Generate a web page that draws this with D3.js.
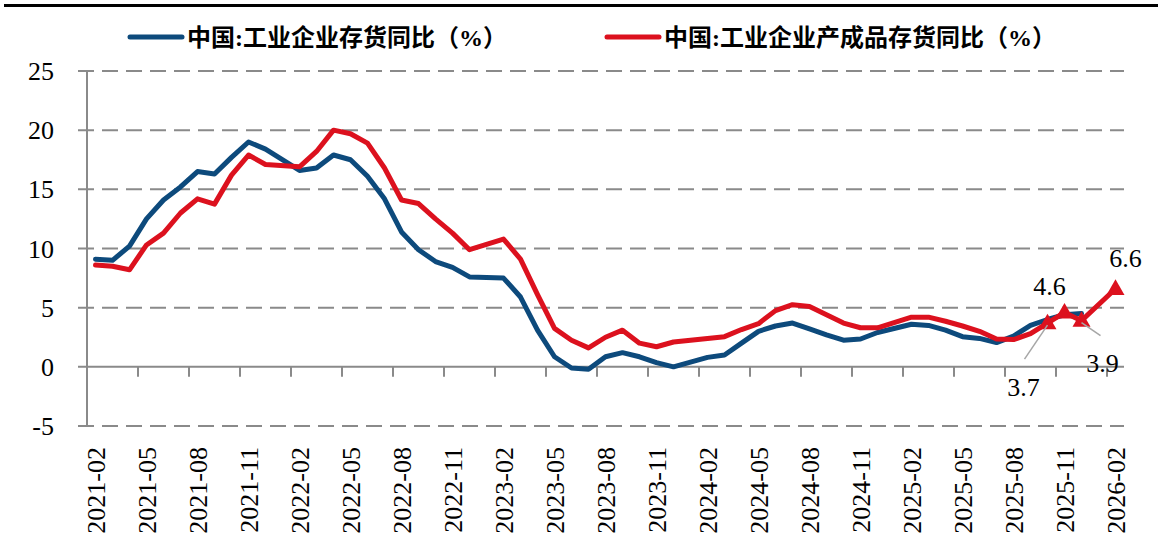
<!DOCTYPE html>
<html>
  <head>
    <meta charset="utf-8">
    <title>工业企业存货同比</title>
    <script src="https://d3js.org/d3.v7.min.js"></script>
    <style>
      body { margin: 0; background: #fff; }
      svg text { font-family: "Liberation Serif", "Noto Sans CJK SC", serif; fill: #000; }
    </style>
  </head>
  <body>
    <div class="chart"></div>
    <script>
      /*
       * data (monthly, no January releases)
       */
      var months = [
        "2021-02","2021-03","2021-04","2021-05","2021-06","2021-07","2021-08","2021-09","2021-10","2021-11","2021-12",
        "2022-02","2022-03","2022-04","2022-05","2022-06","2022-07","2022-08","2022-09","2022-10","2022-11","2022-12",
        "2023-02","2023-03","2023-04","2023-05","2023-06","2023-07","2023-08","2023-09","2023-10","2023-11","2023-12",
        "2024-02","2024-03","2024-04","2024-05","2024-06","2024-07","2024-08","2024-09","2024-10","2024-11","2024-12",
        "2025-02","2025-03","2025-04","2025-05","2025-06","2025-07","2025-08","2025-09","2025-10","2025-11","2025-12",
        "2026-02"
      ];
      var inventoryYoY = [
        9.1, 9.0, 10.2, 12.5, 14.1, 15.2, 16.5, 16.3, 17.7, 19.0, 18.4,
        16.6, 16.8, 17.9, 17.5, 16.1, 14.2, 11.4, 9.9, 8.9, 8.4, 7.6,
        7.5, 5.9, 3.1, 0.85, -0.1, -0.2, 0.85, 1.2, 0.85, 0.35, 0.0,
        0.8, 1.0, 2.0, 3.0, 3.45, 3.7, 3.2, 2.7, 2.25, 2.35, 2.9,
        3.6, 3.5, 3.1, 2.55, 2.4, 2.05, 2.6, 3.5, 4.0, 4.4, 4.5,
        null
      ];
      var finishedYoY = [
        8.6, 8.5, 8.2, 10.3, 11.3, 13.0, 14.2, 13.75, 16.2, 17.9, 17.1,
        16.9, 18.2, 20.0, 19.7, 18.9, 16.8, 14.1, 13.8, 12.5, 11.3, 9.9,
        10.8, 9.1, 6.1, 3.25, 2.25, 1.6, 2.5, 3.1, 2.0, 1.7, 2.1,
        2.4, 2.55, 3.15, 3.65, 4.75, 5.25, 5.1, 4.4, 3.7, 3.3, 3.3,
        4.2, 4.2, 3.85, 3.45, 3.0, 2.35, 2.3, 2.8, 3.7, 4.6, 3.9,
        6.6
      ];
      var tickLabels = [
        "2021-02","2021-05","2021-08","2021-11","2022-02","2022-05","2022-08","2022-11",
        "2023-02","2023-05","2023-08","2023-11","2024-02","2024-05","2024-08","2024-11",
        "2025-02","2025-05","2025-08","2025-11","2026-02"
      ];
      var yTicks = [25, 20, 15, 10, 5, 0, -5];
      var seriesNames = ["中国:工业企业存货同比（%）", "中国:工业企业产成品存货同比（%）"];
      var labelledMonths = ["2025-10", "2025-11", "2025-12", "2026-02"];

      var blue = "#0d4a7c", red = "#dc111e", grey = "#8a8a8a";

      // month string -> index from 2021-02
      function monthIndex(s) {
        var p = s.split("-");
        return (+p[0] - 2021) * 12 + (+p[1] - 2);
      }

      var width = 1158, height = 548;
      var x = d3.scaleLinear().domain([-0.5, 60.5]).range([87, 1124]);
      var y = d3.scaleLinear().domain([-5, 25]).range([426, 71]);

      var svg = d3.select(".chart").append("svg")
        .attr("width", width)
        .attr("height", height);

      // top rule
      svg.append("rect").attr("x", 4).attr("y", 4).attr("width", width - 4).attr("height", 3).attr("fill", "#000");

      // gridlines (0 is the solid axis)
      svg.selectAll("line.grid")
        .data(yTicks.filter(d => d !== 0))
        .enter().append("line")
          .attr("class", "grid")
          .attr("x1", 78).attr("x2", 1124)
          .attr("y1", d => y(d)).attr("y2", d => y(d))
          .attr("stroke", grey).attr("stroke-width", 2)
          .attr("stroke-dasharray", "16,8");

      svg.selectAll("text.ylab")
        .data(yTicks)
        .enter().append("text")
          .attr("class", "ylab")
          .attr("x", 54)
          .attr("y", d => y(d))
          .attr("dy", "0.35em")
          .attr("text-anchor", "end")
          .style("font-size", "26px")
          .text(d => d);

      // y axis line
      svg.append("line")
        .attr("x1", x(-0.5)).attr("x2", x(-0.5))
        .attr("y1", y(25)).attr("y2", y(-5))
        .attr("stroke", grey).attr("stroke-width", 2);

      // zero axis + ticks
      svg.append("line")
        .attr("x1", 78).attr("x2", 1124)
        .attr("y1", y(0)).attr("y2", y(0))
        .attr("stroke", grey).attr("stroke-width", 2);

      svg.selectAll("line.xtick")
        .data(tickLabels)
        .enter().append("line")
          .attr("class", "xtick")
          .attr("x1", d => x(monthIndex(d) - 0.5)).attr("x2", d => x(monthIndex(d) - 0.5))
          .attr("y1", y(0)).attr("y2", y(0) + 10)
          .attr("stroke", grey).attr("stroke-width", 2);

      svg.selectAll("text.xlab")
        .data(tickLabels)
        .enter().append("text")
          .attr("class", "xlab")
          .attr("transform", d => "translate(" + x(monthIndex(d)) + ",447) rotate(-90)")
          .attr("dy", "0.35em")
          .attr("text-anchor", "end")
          .style("font-size", "26px")
          .text(d => d);

      // lines
      var line = d3.line()
        .defined(d => d.v !== null)
        .x(d => x(monthIndex(d.m)))
        .y(d => y(d.v));

      var blueData = months.map((m, i) => ({ m: m, v: inventoryYoY[i] })).filter(d => d.v !== null);
      var redData = months.map((m, i) => ({ m: m, v: finishedYoY[i] }));

      svg.append("path").datum(blueData)
        .attr("d", line).attr("fill", "none")
        .attr("stroke", blue).attr("stroke-width", 5)
        .attr("stroke-linejoin", "round").attr("stroke-linecap", "round");

      svg.append("path").datum(redData)
        .attr("d", line).attr("fill", "none")
        .attr("stroke", red).attr("stroke-width", 5)
        .attr("stroke-linejoin", "round").attr("stroke-linecap", "round");

      // triangle markers on the latest points
      var marked = redData.filter(d => labelledMonths.indexOf(d.m) >= 0);
      var tri = d3.symbol().type(d3.symbolTriangle).size(140);
      svg.selectAll("path.mark")
        .data(marked)
        .enter().append("path")
          .attr("class", "mark")
          .attr("d", tri)
          .attr("transform", d => "translate(" + x(monthIndex(d.m)) + "," + (y(d.v) + 1) + ")")
          .attr("fill", red);

      // value labels: offset from point, optional leader line
      var offsets = {
        "2025-10": { dx: -24, dy: 64, lx: -23, ly: 36 },
        "2025-11": { dx: -15, dy: -27 },
        "2025-12": { dx: 21, dy: 42, lx: 19, ly: 15 },
        "2026-02": { dx: 10, dy: -31 }
      };
      marked.forEach(function(d) {
        var o = offsets[d.m], px = x(monthIndex(d.m)), py = y(d.v);
        if (o.lx !== undefined) {
          svg.append("line")
            .attr("x1", px).attr("y1", py + 2)
            .attr("x2", px + o.lx).attr("y2", py + o.ly)
            .attr("stroke", "#a6a6a6").attr("stroke-width", 1.5);
        }
        svg.append("text")
          .attr("x", px + o.dx).attr("y", py + o.dy)
          .attr("dy", "0.35em")
          .attr("text-anchor", "middle")
          .style("font-size", "26px")
          .text(d.v.toFixed(1));
      });

      // legend
      var legend = svg.selectAll("g.legend")
        .data(seriesNames)
        .enter().append("g")
          .attr("class", "legend")
          .attr("transform", (d, i) => "translate(" + (i === 0 ? 130 : 607) + ",37)");

      legend.append("line")
        .attr("x1", 0).attr("x2", 52)
        .attr("stroke", (d, i) => i === 0 ? blue : red)
        .attr("stroke-width", 5)
        .attr("stroke-linecap", "round");

      legend.append("text")
        .attr("x", 57)
        .attr("dy", "0.36em")
        .style("font-size", "24px")
        .style("font-weight", "bold")
        .text(d => d);
    </script>
  </body>
</html>
